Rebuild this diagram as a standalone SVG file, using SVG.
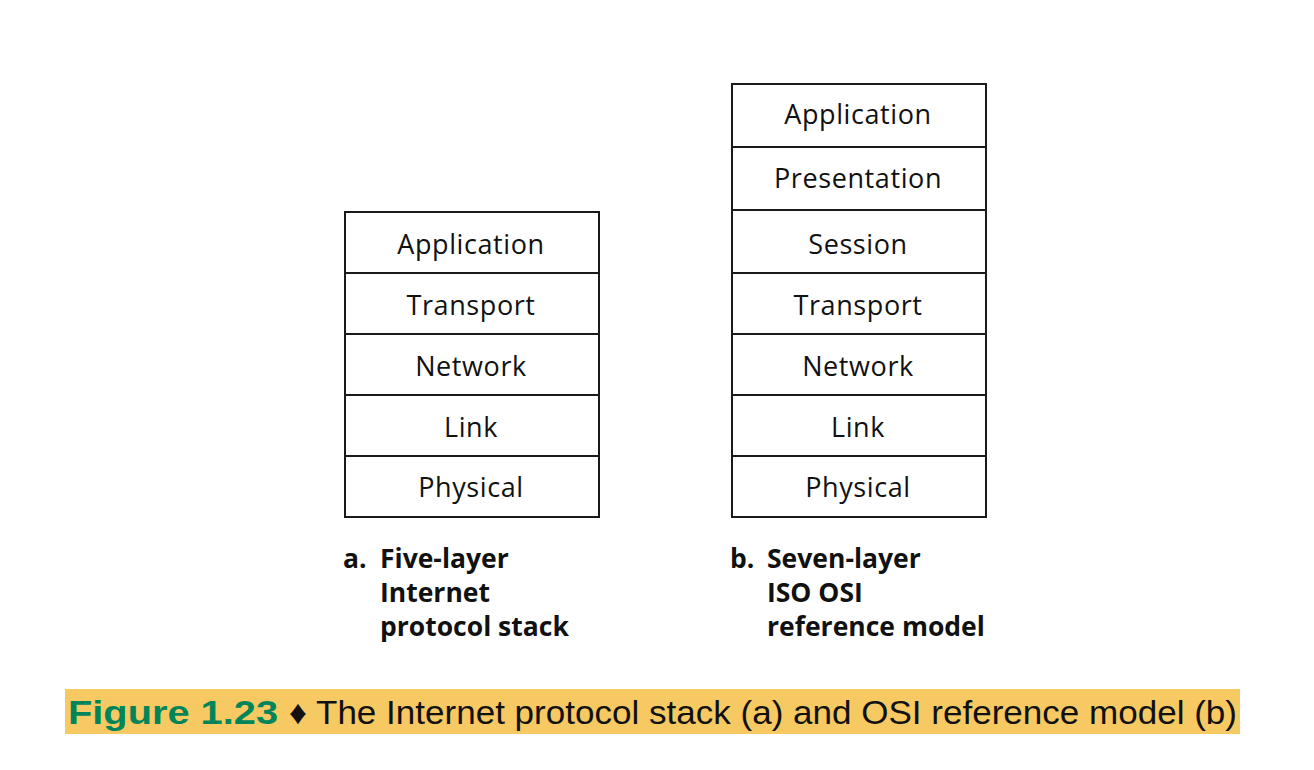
<svg xmlns="http://www.w3.org/2000/svg" width="1314" height="770" viewBox="0 0 1314 770">
<style>
.box{fill:#fff;stroke:#1a1a1a;stroke-width:2}
.lt{font-family:"Open Sans","Liberation Sans",sans-serif;font-size:27px;font-weight:500;fill:#111;text-anchor:middle;letter-spacing:0.6px}
.cap{font-family:"Open Sans","Liberation Sans",sans-serif;font-size:26.5px;font-weight:bold;fill:#111}
.fig{font-family:"Liberation Sans",sans-serif;font-size:34px;font-weight:bold;fill:#00855a}
.ct{font-family:"Liberation Sans Narrow","Liberation Sans",sans-serif;font-size:34px;fill:#111}
</style>
<rect width="1314" height="770" fill="#fff"/>
<g id="stack-a">
<rect class="box" x="345" y="212" width="254" height="61"/>
<rect class="box" x="345" y="273" width="254" height="61"/>
<rect class="box" x="345" y="334" width="254" height="61"/>
<rect class="box" x="345" y="395" width="254" height="61"/>
<rect class="box" x="345" y="456" width="254" height="61"/>
<text class="lt" x="471" y="254">Application</text>
<text class="lt" x="471" y="315">Transport</text>
<text class="lt" x="471" y="376">Network</text>
<text class="lt" x="471" y="437">Link</text>
<text class="lt" x="471" y="497">Physical</text>
</g>
<g id="stack-b">
<rect class="box" x="732" y="84" width="254" height="63"/>
<rect class="box" x="732" y="147" width="254" height="63"/>
<rect class="box" x="732" y="210" width="254" height="63"/>
<rect class="box" x="732" y="273" width="254" height="61"/>
<rect class="box" x="732" y="334" width="254" height="61"/>
<rect class="box" x="732" y="395" width="254" height="61"/>
<rect class="box" x="732" y="456" width="254" height="61"/>
<text class="lt" x="858" y="124">Application</text>
<text class="lt" x="858" y="188">Presentation</text>
<text class="lt" x="858" y="254">Session</text>
<text class="lt" x="858" y="315">Transport</text>
<text class="lt" x="858" y="376">Network</text>
<text class="lt" x="858" y="437">Link</text>
<text class="lt" x="858" y="497">Physical</text>
</g>
<g id="label-a">
<text class="cap" x="343" y="568">a.</text>
<text class="cap" x="380" y="568">Five-layer</text>
<text class="cap" x="380" y="602">Internet</text>
<text class="cap" x="380" y="636">protocol stack</text>
</g>
<g id="label-b">
<text class="cap" x="730" y="568">b.</text>
<text class="cap" x="767" y="568">Seven-layer</text>
<text class="cap" x="767" y="602">ISO OSI</text>
<text class="cap" x="767" y="636">reference model</text>
</g>
<g id="caption">
<rect x="65" y="689" width="1175" height="45" fill="#f7c962"/>
<text class="fig" x="68" y="724" textLength="210" lengthAdjust="spacingAndGlyphs">Figure 1.23</text>
<text class="ct" x="289" y="724" textLength="948" lengthAdjust="spacingAndGlyphs">♦ The Internet protocol stack (a) and OSI reference model (b)</text>
</g>
</svg>
